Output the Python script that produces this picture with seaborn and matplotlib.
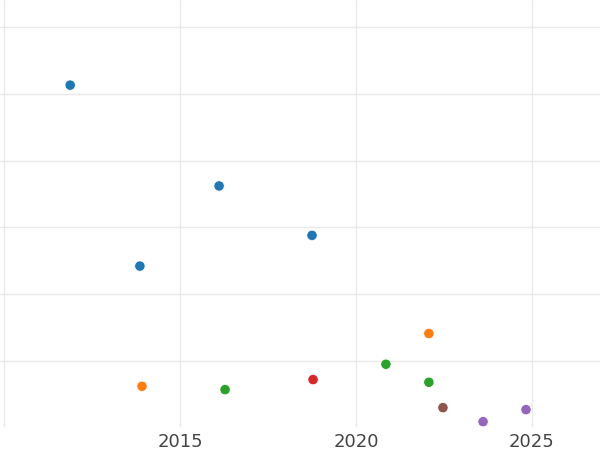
import pandas as pd
import matplotlib
matplotlib.use('Agg')
import matplotlib.pyplot as plt
import seaborn as sns

# Data (decimal year, value in grid units)
years = [2011.88, 2016.11, 2018.75, 2013.86,
         2013.92, 2022.07,
         2016.28, 2020.85, 2022.07,
         2018.78,
         2023.61, 2024.83,
         2022.47]
values = [5.13, 3.62, 2.88, 2.42,
          0.62, 1.41,
          0.57, 0.95, 0.68,
          0.72,
          0.09, 0.27,
          0.30]
groups = ['A', 'A', 'A', 'A',
          'B', 'B',
          'C', 'C', 'C',
          'D',
          'E', 'E',
          'F']
group_order = ['A', 'B', 'C', 'D', 'E', 'F']

df = pd.DataFrame({'year': years, 'value': values, 'group': groups})

sns.set_style('whitegrid', {'grid.color': '#e9e9e9', 'axes.edgecolor': 'white'})

fig = plt.figure(figsize=(6, 4.5), dpi=100)
ax = fig.add_axes([0, 23 / 450, 1, 427 / 450])

sns.scatterplot(data=df, x='year', y='value', hue='group', hue_order=group_order,
                palette='tab10', s=55, edgecolor='white', linewidth=0.5,
                legend=False, ax=ax)

ax.set_xlim(2009.886, 2026.932)
ax.set_ylim(0.01, 6.405)
ax.set_xticks([2010, 2015, 2020, 2025])
ax.set_xticklabels(['', '2015', '2020', '2025'])
ax.set_yticks([1, 2, 3, 4, 5, 6])
ax.set_yticklabels([])
ax.tick_params(axis='both', length=0, pad=4, labelsize=13, labelcolor='#444444')
ax.grid(True, linewidth=1)
ax.set_xlabel('')
ax.set_ylabel('')
for s in ax.spines.values():
    s.set_visible(False)

fig.savefig('out.png', dpi=100)
plt.close(fig)
